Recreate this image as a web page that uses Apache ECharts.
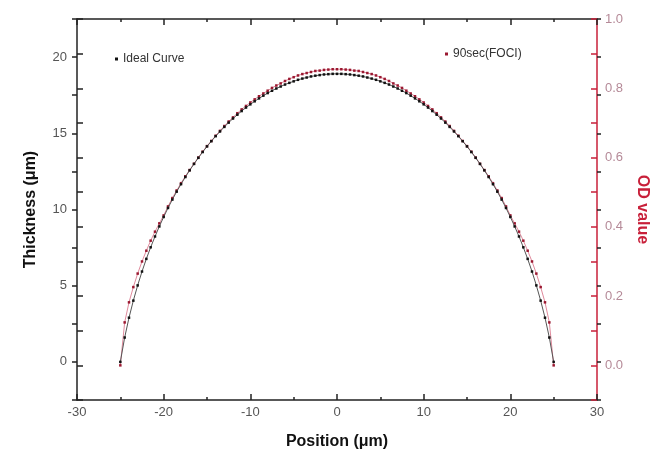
<!DOCTYPE html>
<html>
<head>
<meta charset="utf-8">
<script src="https://cdn.jsdelivr.net/npm/echarts@6/dist/echarts.min.js"></script>
<style>
html, body { margin: 0; padding: 0; background: #fff; }
#main { width: 666px; height: 455px; }
</style>
</head>
<body>
<div id="main"></div>
<script>
// position along the profile (um)
var positions = [
	-25, -24.5, -24, -23.5, -23, -22.5, -22, -21.5, -21, -20.5,
	-20, -19.5, -19, -18.5, -18, -17.5, -17, -16.5, -16, -15.5,
	-15, -14.5, -14, -13.5, -13, -12.5, -12, -11.5, -11, -10.5,
	-10, -9.5, -9, -8.5, -8, -7.5, -7, -6.5, -6, -5.5,
	-5, -4.5, -4, -3.5, -3, -2.5, -2, -1.5, -1, -0.5,
	0, 0.5, 1, 1.5, 2, 2.5, 3, 3.5, 4, 4.5,
	5, 5.5, 6, 6.5, 7, 7.5, 8, 8.5, 9, 9.5,
	10, 10.5, 11, 11.5, 12, 12.5, 13, 13.5, 14, 14.5,
	15, 15.5, 16, 16.5, 17, 17.5, 18, 18.5, 19, 19.5,
	20, 20.5, 21, 21.5, 22, 22.5, 23, 23.5, 24, 24.5, 25 ];

// Ideal Curve, thickness (um)
var idealCurve = [
	0, 1.60, 2.90, 4.02, 5.02, 5.93, 6.76, 7.52, 8.23, 8.89,
	9.51, 10.10, 10.65, 11.17, 11.66, 12.13, 12.57, 12.99, 13.39, 13.77,
	14.14, 14.48, 14.81, 15.12, 15.42, 15.70, 15.97, 16.22, 16.46, 16.69,
	16.90, 17.10, 17.29, 17.47, 17.64, 17.79, 17.94, 18.07, 18.20, 18.31,
	18.41, 18.51, 18.59, 18.66, 18.73, 18.78, 18.82, 18.86, 18.88, 18.90,
	18.90, 18.90, 18.88, 18.86, 18.82, 18.78, 18.73, 18.66, 18.59, 18.51,
	18.41, 18.31, 18.20, 18.07, 17.94, 17.79, 17.64, 17.47, 17.29, 17.10,
	16.90, 16.69, 16.46, 16.22, 15.97, 15.70, 15.42, 15.12, 14.81, 14.48,
	14.14, 13.77, 13.39, 12.99, 12.57, 12.13, 11.66, 11.17, 10.65, 10.10,
	9.51, 8.89, 8.23, 7.52, 6.76, 5.93, 5.02, 4.02, 2.90, 1.60, 0 ];

// 90sec(FOCI), OD value
var fociOD = [
	0.000, 0.124, 0.182, 0.226, 0.265, 0.300, 0.331, 0.360, 0.386, 0.410,
	0.433, 0.459, 0.483, 0.505, 0.526, 0.546, 0.564, 0.582, 0.600, 0.617,
	0.633, 0.648, 0.663, 0.677, 0.691, 0.704, 0.716, 0.728, 0.739, 0.749,
	0.759, 0.768, 0.777, 0.785, 0.793, 0.801, 0.808, 0.814, 0.821, 0.827,
	0.832, 0.837, 0.841, 0.844, 0.847, 0.850, 0.851, 0.853, 0.854, 0.855,
	0.855, 0.855, 0.854, 0.853, 0.851, 0.850, 0.847, 0.844, 0.841, 0.837,
	0.832, 0.827, 0.821, 0.814, 0.808, 0.801, 0.793, 0.785, 0.777, 0.768,
	0.759, 0.749, 0.739, 0.728, 0.716, 0.704, 0.691, 0.677, 0.663, 0.648,
	0.633, 0.617, 0.600, 0.582, 0.564, 0.546, 0.526, 0.505, 0.483, 0.459,
	0.433, 0.410, 0.386, 0.360, 0.331, 0.300, 0.265, 0.226, 0.182, 0.124, 0.000 ];

var thicknessLabels = [ 0, 5, 10, 15, 20 ];
var odLabels = [ 0, 0.2, 0.4, 0.6, 0.8, 1.0 ];

var fontFamily = 'Liberation Sans, Arial, sans-serif';
var red = '#c8203a';

function pairs(xs, ys) {
	var out = [];
	for (var i = 0; i < xs.length; i++) {
		out.push([ xs[i], ys[i] ]);
	}
	return out;
}

var option = {
	animation : false,
	backgroundColor : '#fff',
	textStyle : {
		fontFamily : fontFamily
	},
	grid : {
		left : 77,
		right : 69,
		top : 19,
		bottom : 53
	},
	legend : [ {
		data : [ 'Ideal Curve' ],
		left : 110,
		top : 48,
		icon : 'rect',
		itemWidth : 3,
		itemHeight : 3,
		textStyle : {
			fontSize : 12,
			color : '#333',
			fontFamily : fontFamily
		}
	}, {
		data : [ '90sec(FOCI)' ],
		left : 440,
		top : 43,
		icon : 'rect',
		itemWidth : 3,
		itemHeight : 3,
		textStyle : {
			fontSize : 12,
			color : '#333',
			fontFamily : fontFamily
		}
	} ],
	xAxis : [ {
		type : 'value',
		position : 'bottom',
		min : -30,
		max : 30,
		interval : 10,
		name : 'Position (μm)',
		nameLocation : 'middle',
		nameGap : 34,
		nameTextStyle : {
			fontSize : 16,
			fontWeight : 'bold',
			color : '#111'
		},
		axisLine : {
			onZero : false,
			lineStyle : {
				color : '#222',
				width : 1.5
			}
		},
		axisTick : {
			inside : true,
			length : 6,
			lineStyle : {
				color : '#222',
				width : 1.5
			}
		},
		minorTick : {
			show : true,
			splitNumber : 2,
			length : 3,
			lineStyle : {
				color : '#222',
				width : 1.5
			}
		},
		splitLine : {
			show : false
		},
		axisLabel : {
			color : '#555',
			fontSize : 13,
			margin : 6
		}
	}, {
		type : 'value',
		position : 'top',
		min : -30,
		max : 30,
		interval : 10,
		axisLine : {
			onZero : false,
			lineStyle : {
				color : '#222',
				width : 1.5
			}
		},
		axisTick : {
			inside : true,
			length : 6,
			lineStyle : {
				color : '#222',
				width : 1.5
			}
		},
		minorTick : {
			show : true,
			splitNumber : 2,
			length : 3,
			lineStyle : {
				color : '#222',
				width : 1.5
			}
		},
		splitLine : {
			show : false
		},
		axisLabel : {
			show : false
		}
	} ],
	yAxis : [ {
		// Thickness, left
		type : 'value',
		position : 'left',
		min : -2.5,
		max : 22.5,
		interval : 2.5,
		name : 'Thickness (μm)',
		nameLocation : 'middle',
		nameRotate : 90,
		nameGap : 38,
		nameTextStyle : {
			fontSize : 16,
			fontWeight : 'bold',
			color : '#111'
		},
		axisLine : {
			onZero : false,
			lineStyle : {
				color : '#222',
				width : 1.5
			}
		},
		axisTick : {
			length : 5,
			lineStyle : {
				color : '#222',
				width : 1.5
			}
		},
		splitLine : {
			show : false
		},
		axisLabel : {
			customValues : thicknessLabels,
			color : '#555',
			fontSize : 13,
			margin : 10
		}
	}, {
		// OD value, right
		type : 'value',
		position : 'right',
		min : -0.1,
		max : 1.0,
		interval : 0.1,
		name : 'OD value',
		nameLocation : 'middle',
		nameRotate : -90,
		nameGap : 36,
		nameTextStyle : {
			fontSize : 16,
			fontWeight : 'bold',
			color : red
		},
		axisLine : {
			onZero : false,
			lineStyle : {
				color : red,
				width : 1.5
			}
		},
		axisTick : {
			inside : true,
			length : 6,
			lineStyle : {
				color : red,
				width : 1.5
			}
		},
		splitLine : {
			show : false
		},
		axisLabel : {
			customValues : odLabels,
			color : '#b58a98',
			fontSize : 13,
			margin : 8,
			formatter : function(v) {
				return v.toFixed(1);
			}
		}
	}, {
		// mirror of thickness ticks on the right side
		type : 'value',
		position : 'right',
		min : -2.5,
		max : 22.5,
		interval : 2.5,
		axisLine : {
			show : false,
			onZero : false
		},
		axisTick : {
			length : 4,
			lineStyle : {
				color : '#222',
				width : 1.5
			}
		},
		splitLine : {
			show : false
		},
		axisLabel : {
			show : false
		}
	}, {
		// mirror of OD ticks on the left side
		type : 'value',
		position : 'left',
		min : -0.1,
		max : 1.0,
		interval : 0.1,
		axisLine : {
			show : false,
			onZero : false
		},
		axisTick : {
			inside : true,
			length : 6,
			lineStyle : {
				color : '#222',
				width : 1.5
			}
		},
		splitLine : {
			show : false
		},
		axisLabel : {
			show : false
		}
	} ],
	series : [ {
		name : 'Ideal Curve',
		type : 'line',
		xAxisIndex : 0,
		yAxisIndex : 0,
		symbol : 'rect',
		symbolSize : 2.5,
		showAllSymbol : true,
		itemStyle : {
			color : '#111'
		},
		lineStyle : {
			color : '#555',
			width : 1
		},
		data : pairs(positions, idealCurve),
		z : 3
	}, {
		name : '90sec(FOCI)',
		type : 'line',
		xAxisIndex : 0,
		yAxisIndex : 1,
		symbol : 'rect',
		symbolSize : 2.5,
		showAllSymbol : true,
		itemStyle : {
			color : '#9a1830'
		},
		lineStyle : {
			color : '#e08a9c',
			width : 1
		},
		data : pairs(positions, fociOD),
		z : 2
	} ]
};

var myChart = echarts.init(document.getElementById('main'));
myChart.setOption(option);
</script>
</body>
</html>
